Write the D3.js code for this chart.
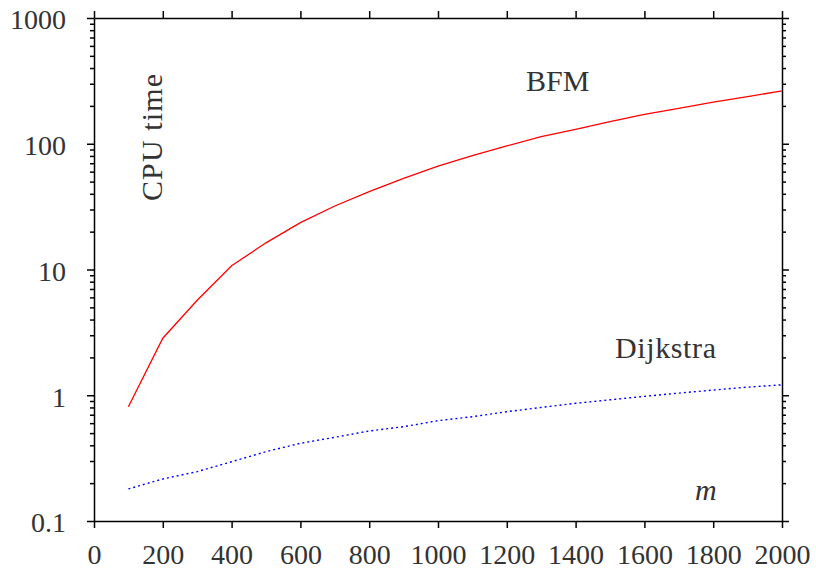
<!DOCTYPE html>
<html>
<head>
<meta charset="utf-8">
<script src="https://cdn.jsdelivr.net/npm/d3@7"></script>
<style>
  body { margin: 0; background: #fff; }
  .axis path, .axis line { stroke: #000; stroke-width: 1.5; }
</style>
</head>
<body>
<div id="chart"></div>
<script>
const mValues = [100, 200, 300, 400, 500, 600, 700, 800, 900, 1000,
                 1100, 1200, 1300, 1400, 1500, 1600, 1700, 1800, 1900, 2000];
const bfmTimes = [0.81, 2.84, 5.7, 10.7, 16.3, 23.6, 32, 41.6, 53, 66.5,
                  80.4, 96, 114, 130, 150, 171, 191, 214, 237, 263];
const dijkstraTimes = [0.18, 0.216, 0.247, 0.296, 0.356, 0.415, 0.463, 0.52, 0.562, 0.628,
                       0.675, 0.74, 0.80, 0.863, 0.92, 0.98, 1.04, 1.10, 1.16, 1.21];
const xTicks = [0, 200, 400, 600, 800, 1000, 1200, 1400, 1600, 1800, 2000];
const yTicks = [0.1, 1, 10, 100, 1000];
const yTickLabels = ['0.1', '1', '10', '100', '1000'];

const width = 816;
const height = 570;
const padLeft = 94, padRight = 782, padTop = 18, padBottom = 521;
const serif = "'Liberation Serif'";
const textColor = '#333';

let svg = d3.select('#chart')
  .append('svg')
  .attr('width', width)
  .attr('height', height);

let x = d3.scaleLinear().domain([0, 2000]).range([padLeft, padRight]);
let y = d3.scaleLog().domain([0.1, 1000]).range([padBottom, padTop]);

let minor = y.ticks().filter(t => !yTicks.some(v => Math.abs(v - t) < 1e-9));

let styleText = (sel, size = 28) => sel
  .style('font-family', serif)
  .style('font-size', `${size}px`)
  .attr('fill', textColor);

// Bottom axis with labels.
svg.append('g')
  .attr('class', 'axis')
  .attr('transform', `translate(0,${padBottom})`)
  .call(d3.axisBottom(x).tickValues(xTicks).tickSize(7).tickSizeOuter(0).tickPadding(16)
    .tickFormat(d3.format('d')))
  .call(g => g.selectAll('text').call(styleText));

// Top axis, ticks only.
svg.append('g')
  .attr('class', 'axis')
  .attr('transform', `translate(0,${padTop})`)
  .call(d3.axisTop(x).tickValues(xTicks).tickSize(7).tickSizeOuter(0).tickFormat(''));

// Left axis, major + minor.
svg.append('g')
  .attr('class', 'axis')
  .attr('transform', `translate(${padLeft},0)`)
  .call(d3.axisLeft(y).tickValues(yTicks).tickSize(7).tickSizeOuter(0).tickPadding(21)
    .tickFormat((d, i) => yTickLabels[i]))
  .call(g => g.selectAll('text').call(styleText).attr('dy', '0.39em'));

svg.append('g')
  .attr('class', 'axis')
  .attr('transform', `translate(${padLeft},0)`)
  .call(d3.axisLeft(y).tickValues(minor).tickSize(4).tickSizeOuter(0).tickFormat(''))
  .call(g => g.select('.domain').remove());

// Right axis, major + minor.
svg.append('g')
  .attr('class', 'axis')
  .attr('transform', `translate(${padRight},0)`)
  .call(d3.axisRight(y).tickValues(yTicks).tickSize(7).tickSizeOuter(0).tickFormat(''));

svg.append('g')
  .attr('class', 'axis')
  .attr('transform', `translate(${padRight},0)`)
  .call(d3.axisRight(y).tickValues(minor).tickSize(4).tickSizeOuter(0).tickFormat(''))
  .call(g => g.select('.domain').remove());

let line = d3.line()
  .x(d => x(d[0]))
  .y(d => y(d[1]));

svg.append('path')
  .datum(d3.zip(mValues, bfmTimes))
  .attr('fill', 'none')
  .attr('stroke', '#ff0000')
  .attr('stroke-width', 1.3)
  .attr('d', line);

svg.append('path')
  .datum(d3.zip(mValues, dijkstraTimes))
  .attr('fill', 'none')
  .attr('stroke', '#0000ff')
  .attr('stroke-width', 1.4)
  .attr('stroke-dasharray', '2,3')
  .attr('d', line);

// Labels.
svg.append('text')
  .attr('transform', 'translate(162,201) rotate(-90)')
  .attr('textLength', 127)
  .attr('lengthAdjust', 'spacing')
  .call(styleText, 30)
  .text('CPU time');

svg.append('text')
  .attr('x', 526)
  .attr('y', 91)
  .call(styleText, 30)
  .text('BFM');

svg.append('text')
  .attr('x', 615)
  .attr('y', 358)
  .attr('textLength', 101)
  .attr('lengthAdjust', 'spacing')
  .call(styleText, 30)
  .text('Dijkstra');

svg.append('text')
  .attr('x', 695)
  .attr('y', 500)
  .call(styleText, 30)
  .style('font-style', 'italic')
  .text('m');
</script>
</body>
</html>
